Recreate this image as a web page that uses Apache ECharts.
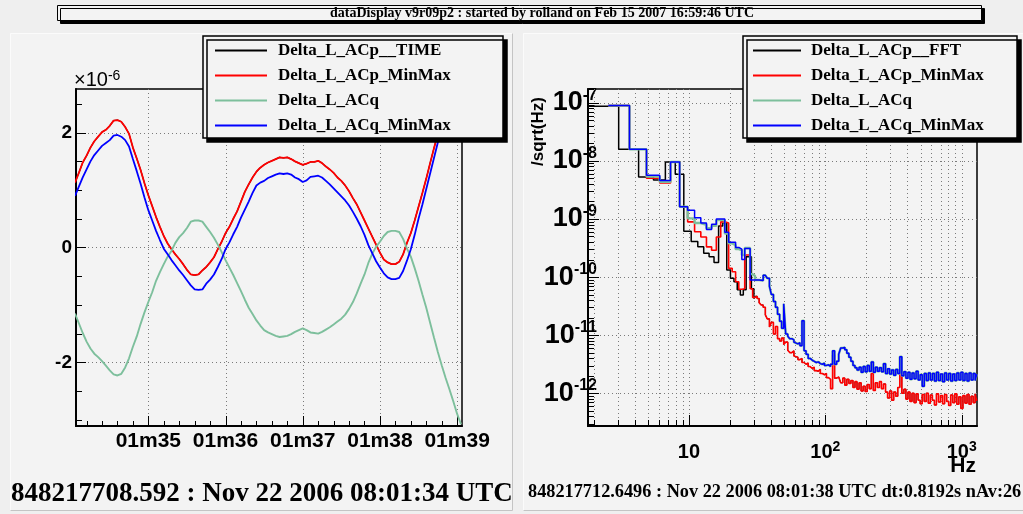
<!DOCTYPE html>
<html>
<head>
<meta charset="utf-8">
<script src="https://cdn.jsdelivr.net/npm/echarts@6/dist/echarts.min.js"></script>
<style>
  html, body { margin: 0; padding: 0; background: #efefef; }
  #chart { width: 1023px; height: 514px; }
</style>
</head>
<body>
<div id="chart"></div>
<script>
const SANS = '"Liberation Sans", Arial, Helvetica, sans-serif';
const SERIF = '"Liberation Serif", "Times New Roman", Times, serif';

// ---------- left pad: time series (units of 1e-6), one sample every 0.05 s ----------
const tStart = 34.05;   // seconds after 08:01:00 UTC
const tStep = 0.05;
const acpMinMax = [
  1.13, 1.30, 1.48, 1.60, 1.74, 1.85, 1.93, 2.01, 2.05, 2.12,
  2.21, 2.22, 2.19, 2.10, 1.98, 1.74, 1.55, 1.35, 1.12, 0.91,
  0.72, 0.53, 0.36, 0.20, 0.07, -0.03, -0.12, -0.20, -0.29, -0.39,
  -0.47, -0.48, -0.47, -0.40, -0.34, -0.26, -0.17, -0.03, 0.10, 0.25,
  0.36, 0.50, 0.63, 0.80, 0.97, 1.10, 1.22, 1.32, 1.39, 1.44,
  1.48, 1.51, 1.54, 1.57, 1.56, 1.57, 1.54, 1.50, 1.47, 1.44,
  1.46, 1.49, 1.49, 1.51, 1.47, 1.41, 1.36, 1.30, 1.22, 1.16,
  1.08, 0.98, 0.86, 0.75, 0.61, 0.47, 0.33, 0.19, 0.05, -0.09,
  -0.21, -0.26, -0.29, -0.29, -0.25, -0.12, 0.08, 0.25, 0.47, 0.71,
  0.95, 1.20, 1.47, 1.73, 1.98, 2.23, 2.48, 2.73, 2.98, 3.23, 3.48
];
// the raw ACp time trace lies under its min/max envelope at this scale
const acpTime = acpMinMax;
const acqMinMax = [
  0.90, 1.06, 1.22, 1.36, 1.50, 1.61, 1.69, 1.77, 1.82, 1.87,
  1.95, 1.96, 1.93, 1.87, 1.76, 1.54, 1.33, 1.11, 0.87, 0.65,
  0.47, 0.29, 0.13, -0.02, -0.12, -0.22, -0.31, -0.40, -0.48, -0.57,
  -0.66, -0.73, -0.74, -0.73, -0.63, -0.56, -0.47, -0.34, -0.20, -0.03,
  0.09, 0.23, 0.36, 0.52, 0.66, 0.80, 0.95, 1.08, 1.13, 1.16,
  1.21, 1.24, 1.27, 1.29, 1.28, 1.29, 1.27, 1.22, 1.19, 1.14,
  1.17, 1.23, 1.24, 1.25, 1.22, 1.16, 1.10, 1.03, 0.96, 0.89,
  0.82, 0.73, 0.62, 0.50, 0.37, 0.22, 0.04, -0.10, -0.24, -0.35,
  -0.45, -0.52, -0.55, -0.55, -0.53, -0.41, -0.23, -0.03, 0.22, 0.50,
  0.75, 1.02, 1.29, 1.56, 1.83, 2.10, 2.36, 2.62, 2.88, 3.10, 3.35
];
const acq = [
  -1.15, -1.32, -1.49, -1.64, -1.76, -1.85, -1.91, -1.98, -2.06, -2.14,
  -2.21, -2.23, -2.20, -2.09, -1.93, -1.73, -1.55, -1.33, -1.13, -0.95,
  -0.78, -0.58, -0.43, -0.29, -0.16, -0.06, 0.08, 0.18, 0.25, 0.34,
  0.45, 0.47, 0.47, 0.45, 0.36, 0.27, 0.17, 0.05, -0.08, -0.22,
  -0.35, -0.48, -0.62, -0.76, -0.91, -1.05, -1.16, -1.27, -1.36, -1.44,
  -1.48, -1.51, -1.54, -1.56, -1.55, -1.54, -1.51, -1.47, -1.44, -1.41,
  -1.44, -1.48, -1.49, -1.50, -1.47, -1.43, -1.39, -1.34, -1.29, -1.24,
  -1.17, -1.07, -0.95, -0.80, -0.63, -0.47, -0.27, -0.11, 0.01, 0.10,
  0.20, 0.27, 0.29, 0.29, 0.27, 0.15, -0.02, -0.16, -0.36, -0.58,
  -0.82, -1.05, -1.31, -1.57, -1.82, -2.05, -2.27, -2.47, -2.68, -2.90, -3.08
];
const timeTicks = [35, 36, 37, 38, 39];
const timeTickLabels = ['01m35', '01m36', '01m37', '01m38', '01m39'];
const ampTicks = [-2, 0, 2];

// ---------- right pad: amplitude spectral density, stored as log10 of the value ----------
// low-frequency bins (left edges in Hz); the FFT bins sit half a bin below the min/max bins
const fftEdgesHz = [1.83, 3.05, 4.27, 5.49, 6.71, 7.93, 9.16, 10.38, 11.60, 12.82, 14.04, 15.26,
  16.48, 17.70, 18.92, 20.14, 21.36, 22.58, 23.80, 25.02, 26.25, 27.47, 28.69, 29.91];
const acpFftLog = [-7.06, -7.80, -8.28, -8.33, -8.02, -8.23, -9.21, -9.39, -9.48, -9.59, -9.65, -9.75,
  -9.12, -9.07, -9.88, -10.02, -10.08, -10.22, -10.31, -10.22, -9.65, -9.65, -10.20, -10.37];
const minMaxEdgesHz = [2.56, 3.66, 4.88, 6.10, 7.32, 8.54, 9.77, 10.99, 12.21, 13.43, 14.65, 15.87,
  17.09, 18.31, 19.53, 20.75, 21.97, 23.19, 24.41, 25.63, 26.86, 28.08, 29.30];
const acpMinMaxLog = [-7.05, -7.80, -8.30, -8.38, -8.02, -8.79, -9.05, -9.22, -9.31, -9.48, -9.54, -9.31,
  -9.05, -9.07, -9.85, -9.91, -10.08, -10.21, -10.20, -9.62, -9.62, -10.20, -10.35];
const acqLog = [-7.05, -7.80, -8.27, -8.36, -8.02, -8.79, -8.99, -9.07, -9.10, -9.16, -9.12, -9.02,
  -9.02, -9.25, -9.42, -9.45, -9.52, -9.54, -9.62, -9.50, -9.50, -9.95, -9.98];
const acqMinMaxLog = [-7.05, -7.80, -8.25, -8.34, -8.02, -8.79, -8.85, -8.98, -9.07, -9.18, -9.09, -9.00,
  -9.00, -9.23, -9.40, -9.40, -9.49, -9.52, -9.70, -9.51, -9.51, -10.05, -10.05];

// above 30 Hz the FFT and min/max traces of each channel coincide
const highHz = [30.5,
  31.6, 32.7, 33.8, 35.0, 36.3, 37.5, 38.9, 40.2, 41.6, 43.1,
  44.6, 46.2, 47.8, 49.5, 51.2, 53.0, 54.8, 56.8, 58.8, 60.8,
  62.9, 65.1, 67.4, 69.8, 72.2, 74.8, 77.4, 80.1, 82.9, 85.8,
  88.8, 91.9, 95.1, 98.5, 101.9, 105.5, 109.2, 113.0, 116.9, 121.0,
  125.3, 129.6, 134.2, 138.9, 143.7, 148.8, 154.0, 159.4, 164.9, 170.7,
  176.7, 182.9, 189.3, 195.9, 202.7, 209.8, 217.2, 224.8, 232.6, 240.8,
  249.2, 257.9, 266.9, 276.3, 286.0, 296.0, 306.3, 317.0, 328.1, 339.6,
  351.5, 363.8, 376.6, 389.7, 403.4, 417.5, 432.1, 447.2, 462.9, 479.1,
  495.8, 513.2, 531.1, 549.7, 568.9, 588.9, 609.5, 630.8, 652.8, 675.7,
  699.3, 723.8, 749.1, 775.3, 802.5, 830.6, 859.6, 889.7, 920.9, 953.1,
  986.5, 1021, 1057, 1094, 1132, 1172, 1213, 1255, 1290];
const acpHighLog = [-10.33,
  -10.37, -10.44, -10.48, -10.52, -10.65, -10.72, -10.86, -10.78, -10.98, -10.85,
  -11.06, -11.10, -11.05, -11.16, -11.12, -11.26, -11.30, -11.27, -11.36, -11.38,
  -11.42, -11.40, -11.47, -11.50, -11.48, -11.54, -11.57, -11.55, -11.61, -11.62,
  -11.59, -11.66, -11.68, -11.66, -11.73, -11.76, -11.92, -11.34, -11.74, -11.72,
  -11.72, -11.82, -11.74, -11.86, -11.76, -11.83, -11.78, -11.90, -11.80, -11.93,
  -11.82, -11.96, -11.88, -11.97, -11.85, -11.92, -11.66, -11.95, -11.82, -11.90,
  -11.80, -11.92, -11.84, -11.98, -12.08, -11.96, -12.12, -11.98, -12.05, -11.90,
  -11.58, -12.00, -11.93, -12.10, -11.98, -12.14, -12.00, -12.16, -12.01, -12.12,
  -12.18, -12.02, -12.14, -12.00, -12.17, -12.03, -12.12, -12.20, -12.01, -12.15,
  -12.04, -12.18, -12.02, -12.14, -12.21, -12.03, -12.16, -12.01, -12.19, -12.06,
  -12.26, -12.04, -12.17, -12.02, -12.19, -12.05, -12.16, -12.01, -12.13];
const acqHighLog = [-10.05,
  -10.05, -10.03, -10.06, -9.97, -9.98, -10.02, -10.16, -10.30, -10.42, -10.52,
  -10.64, -10.76, -10.88, -10.46, -10.98, -11.02, -11.06, -11.08, -11.12, -11.15,
  -11.13, -11.18, -10.75, -11.27, -11.33, -11.40, -11.43, -11.45, -11.47, -11.46,
  -11.49, -11.50, -11.48, -11.52, -11.51, -11.54, -11.50, -11.27, -11.50, -11.45,
  -11.33, -11.22, -11.21, -11.25, -11.31, -11.38, -11.45, -11.52, -11.56, -11.60,
  -11.55, -11.64, -11.54, -11.63, -11.52, -11.62, -11.46, -11.64, -11.55, -11.62,
  -11.56, -11.63, -11.49, -11.66, -11.58, -11.67, -11.60, -11.69, -11.59, -11.66,
  -11.37, -11.70, -11.63, -11.74, -11.64, -11.76, -11.65, -11.75, -11.62, -11.77,
  -11.68, -11.88, -11.66, -11.78, -11.65, -11.77, -11.66, -11.79, -11.64, -11.78,
  -11.67, -11.80, -11.65, -11.77, -11.66, -11.79, -11.67, -11.78, -11.65, -11.77,
  -11.64, -11.78, -11.66, -11.79, -11.65, -11.77, -11.66, -11.78, -11.67];
const freqTicks = [10, 100, 1000];
const asdTicks = [1e-12, 1e-11, 1e-10, 1e-9, 1e-8, 1e-7];

// ---------- colours ----------
const C_BLACK = '#000000', C_RED = '#ff0000', C_GREEN = '#7dbf9c', C_BLUE = '#0000ff';
const PAD = '#f3f3f3';

// ---------- helpers ----------
const tAxis = acq.map((_, i) => +(tStart + i * tStep).toFixed(2));
const pairs = (xs, ys) => xs.map((x, i) => [x, ys[i]]);
const logPairs = (xs, ys) => xs.map((x, i) => [x, Math.pow(10, ys[i])]);
const spectrum = (edges, lowLog, highLog) => logPairs(edges, lowLog).concat(logPairs(highHz, highLog));
// FFT trace split in two: the stepped low-frequency bins, and the band above 30 Hz
const fftLow = logPairs(fftEdgesHz, acpFftLog).concat([[highHz[0], Math.pow(10, acpHighLog[0])]]);
const fftHigh = logPairs(highHz, acpHighLog);

// axis ranges
const T_MIN = 34.063, T_MAX = 39.063, A_MIN = -3.11, A_MAX = 2.761;
const F_MIN = Math.pow(10, 0.2593), F_MAX = Math.pow(10, 3.1122);
const S_MIN = Math.pow(10, -12.563), S_MAX = Math.pow(10, -6.764);

// tick lists (value, length in px)
const leftTicksX = [];
for (let k = 171; k <= 195; k++) {
  const v = k / 5;
  if (v < T_MIN || v > T_MAX) continue;
  leftTicksX.push([v, k % 5 === 0 ? 10 : 5]);
}
const leftTicksY = [];
for (let k = -6; k <= 5; k++) {
  const v = k / 2;
  leftTicksY.push([v, ampTicks.includes(v) ? 10 : 6]);
}
const rightTicksX = [], rightGridX = [];
for (let e = 0; e <= 3; e++) for (let m = 1; m <= 9; m++) {
  const v = m * Math.pow(10, e);
  if (v < F_MIN || v > F_MAX) continue;
  rightTicksX.push([v, m === 1 ? 11 : 6]);
  rightGridX.push(v);
}
const rightTicksY = [];
for (let e = -13; e <= -7; e++) for (let m = 1; m <= 9; m++) {
  const v = m * Math.pow(10, e);
  if (v < S_MIN || v > S_MAX) continue;
  rightTicksY.push([v, m === 1 ? 11 : 6]);
}

// frame decorations (dotted grid + inside ticks) drawn through the axis scales
function frameSeries(xAxisIndex, yAxisIndex, cfg) {
  return {
    type: 'custom', xAxisIndex, yAxisIndex, silent: true, z: 1, animation: false,
    data: [[cfg.xRef, cfg.yRef]],
    renderItem(params, api) {
      const cs = params.coordSys;
      const left = cs.x, top = cs.y, right = cs.x + cs.width, bottom = cs.y + cs.height;
      const px = v => Math.round(api.coord([v, cfg.yRef])[0]) + 0.5;
      const py = v => Math.round(api.coord([cfg.xRef, v])[1]) + 0.5;
      const kids = [];
      const dot = { stroke: '#7a7a7a', lineWidth: 1, lineDash: [1, 3], fill: null };
      const tick = { stroke: '#000', lineWidth: 1, fill: null };
      cfg.gridX.forEach(v => { const x = px(v); kids.push({ type: 'line', shape: { x1: x, y1: top, x2: x, y2: bottom }, style: dot }); });
      cfg.gridY.forEach(v => { const y = py(v); kids.push({ type: 'line', shape: { x1: left, y1: y, x2: right, y2: y }, style: dot }); });
      cfg.ticksX.forEach(([v, len]) => { const x = px(v); kids.push({ type: 'line', shape: { x1: x, y1: bottom, x2: x, y2: bottom - len }, style: tick }); });
      cfg.ticksY.forEach(([v, len]) => { const y = py(v); kids.push({ type: 'line', shape: { x1: left, y1: y, x2: left + len, y2: y }, style: tick }); });
      return { type: 'group', children: kids };
    }
  };
}

const lineBase = { type: 'line', showSymbol: false, symbol: 'none', animation: false, silent: true };
const legendBase = {
  orient: 'vertical', icon: 'rect', itemHeight: 2, itemGap: 0, z: 20,
  backgroundColor: PAD, borderColor: '#000', borderWidth: 1.5,
  shadowColor: '#000', shadowBlur: 0, shadowOffsetX: 4, shadowOffsetY: 4,
  selectedMode: false
};
const legendText = { fontFamily: SERIF, fontWeight: 'bold', fontSize: 17, color: '#000', lineHeight: 25 };
const powLabel = v => {
  const e = Math.round(Math.log10(v));
  return e === 1 ? '{b|10}' : '{b|10}{s|' + e + '}';
};
const richPow = (big, small) => ({
  b: { fontFamily: SANS, fontWeight: 'bold', fontSize: big, color: '#000', lineHeight: big + 4 },
  s: { fontFamily: SANS, fontWeight: 'bold', fontSize: small, color: '#000', verticalAlign: 'top', lineHeight: small + 2 }
});

const option = {
  backgroundColor: '#efefef',
  animation: false,
  graphic: [
    // pads
    { type: 'rect', z: -10, shape: { x: 10, y: 33, width: 503, height: 478 }, style: { fill: PAD, stroke: null } },
    { type: 'polyline', z: -9, shape: { points: [[10.5, 510.5], [10.5, 33.5], [512.5, 33.5]] }, style: { stroke: '#fbfbfb', fill: null, lineWidth: 1 } },
    { type: 'polyline', z: -9, shape: { points: [[512.5, 33.5], [512.5, 510.5], [10.5, 510.5]] }, style: { stroke: '#c4c4c4', fill: null, lineWidth: 1 } },
    { type: 'rect', z: -10, shape: { x: 523, y: 33, width: 500, height: 478 }, style: { fill: PAD, stroke: null } },
    { type: 'polyline', z: -9, shape: { points: [[523.5, 510.5], [523.5, 33.5], [1023, 33.5]] }, style: { stroke: '#fbfbfb', fill: null, lineWidth: 1 } },
    { type: 'polyline', z: -9, shape: { points: [[523.5, 510.5], [1023, 510.5]] }, style: { stroke: '#c4c4c4', fill: null, lineWidth: 1 } },
    // title box
    { type: 'rect', z: 50, shape: { x: 57.5, y: 5.5, width: 924, height: 15 },
      style: { fill: PAD, stroke: '#000', lineWidth: 1, shadowColor: '#000', shadowBlur: 0, shadowOffsetX: 3, shadowOffsetY: 3 } },
    { type: 'text', z: 51, x: 542, y: 13.5,
      style: { text: 'dataDisplay v9r09p2 : started by rolland on Feb 15 2007 16:59:46 UTC', font: 'bold 14px ' + SERIF,
        fill: '#000', align: 'center', verticalAlign: 'middle', textAlign: 'center', textVerticalAlign: 'middle' } },
    // exponent of the left amplitude axis
    { type: 'text', z: 50, x: 74, y: 91,
      style: { text: '{a|×10}{s|-6}', fill: '#000', align: 'left', verticalAlign: 'bottom', textAlign: 'left', textVerticalAlign: 'bottom',
        rich: { a: { fontFamily: SANS, fontSize: 20, color: '#000', lineHeight: 22 },
                s: { fontFamily: SANS, fontSize: 14, color: '#000', verticalAlign: 'top', lineHeight: 16 } } } },
    // right axis titles
    { type: 'text', z: 50, x: 538, y: 131.5, rotation: Math.PI / 2,
      style: { text: '/sqrt(Hz)', font: 'bold 17px ' + SANS, fill: '#000', align: 'center', verticalAlign: 'middle', textAlign: 'center', textVerticalAlign: 'middle' } },
    { type: 'text', z: 50, x: 976, y: 466,
      style: { text: 'Hz', font: 'bold 21px ' + SANS, fill: '#000', align: 'right', verticalAlign: 'middle', textAlign: 'right', textVerticalAlign: 'middle' } },
    // time stamps
    { type: 'text', z: 50, x: 11, y: 494.5,
      style: { text: '848217708.592 : Nov 22 2006 08:01:34 UTC', font: 'bold 27px ' + SERIF, fill: '#000', align: 'left', verticalAlign: 'middle', textAlign: 'left', textVerticalAlign: 'middle' } },
    { type: 'text', z: 50, x: 528, y: 492.5,
      style: { text: '848217712.6496 : Nov 22 2006 08:01:38 UTC dt:0.8192s nAv:26', font: 'bold 18.3px ' + SERIF, fill: '#000', align: 'left', verticalAlign: 'middle', textAlign: 'left', textVerticalAlign: 'middle' } }
  ],
  legend: [
    Object.assign({}, legendBase, {
      left: 203, top: 36, padding: [2, 10, 0, 12], itemWidth: 52,
      textStyle: Object.assign({}, legendText, { width: 215, padding: [0, 0, 0, 6] }),
      data: ['Delta_L_ACp__TIME', 'Delta_L_ACp_MinMax', 'Delta_L_ACq', 'Delta_L_ACq_MinMax']
    }),
    Object.assign({}, legendBase, {
      left: 743, top: 36, padding: [2, 10, 0, 10], itemWidth: 48,
      textStyle: Object.assign({}, legendText, { width: 196, padding: [0, 0, 0, 5] }),
      data: ['Delta_L_ACp__FFT', 'Delta_L_ACp_MinMax', 'Delta_L_ACq', 'Delta_L_ACq_MinMax']
    })
  ],
  grid: [
    { left: 76, top: 89, width: 386, height: 337, show: true, borderColor: '#000', borderWidth: 1.5, backgroundColor: 'transparent' },
    { left: 588, top: 89, width: 389, height: 337, show: true, borderColor: '#000', borderWidth: 1.5, backgroundColor: 'transparent' }
  ],
  xAxis: [
    { gridIndex: 0, type: 'value', min: T_MIN, max: T_MAX,
      axisLine: { show: true, onZero: false, lineStyle: { color: '#000', width: 2 } },
      axisTick: { show: false }, splitLine: { show: false },
      axisLabel: { customValues: timeTicks, margin: 5, color: '#000', fontFamily: SANS, fontWeight: 'bold', fontSize: 21,
        formatter: v => timeTickLabels[timeTicks.indexOf(Math.round(v))] } },
    { gridIndex: 1, type: 'log', logBase: 10, min: F_MIN, max: F_MAX,
      axisLine: { show: true, onZero: false, lineStyle: { color: '#000', width: 2 } },
      axisTick: { show: false }, splitLine: { show: false },
      axisLabel: { customValues: freqTicks, margin: 14, formatter: powLabel, rich: richPow(20, 14) } }
  ],
  yAxis: [
    { gridIndex: 0, type: 'value', min: A_MIN, max: A_MAX,
      axisLine: { show: true, onZero: false, lineStyle: { color: '#000', width: 2 } },
      axisTick: { show: false }, splitLine: { show: false },
      axisLabel: { customValues: ampTicks, margin: 4, color: '#000', fontFamily: SANS, fontWeight: 'bold', fontSize: 19,
        formatter: v => String(Math.round(v)) } },
    { gridIndex: 1, type: 'log', logBase: 10, min: S_MIN, max: S_MAX,
      axisLine: { show: true, onZero: false, lineStyle: { color: '#000', width: 2 } },
      axisTick: { show: false }, splitLine: { show: false },
      axisLabel: { customValues: asdTicks, margin: -9, formatter: powLabel, rich: richPow(27, 16) } }
  ],
  series: [
    frameSeries(0, 0, { xRef: 36, yRef: 0, gridX: timeTicks, gridY: ampTicks, ticksX: leftTicksX, ticksY: leftTicksY }),
    Object.assign({}, lineBase, { name: 'Delta_L_ACp__TIME', xAxisIndex: 0, yAxisIndex: 0, z: 3,
      data: pairs(tAxis, acpTime), itemStyle: { color: C_BLACK }, lineStyle: { color: C_BLACK, width: 1.2 } }),
    Object.assign({}, lineBase, { name: 'Delta_L_ACp_MinMax', xAxisIndex: 0, yAxisIndex: 0, z: 4,
      data: pairs(tAxis, acpMinMax), itemStyle: { color: C_RED }, lineStyle: { color: C_RED, width: 1.8 } }),
    Object.assign({}, lineBase, { name: 'Delta_L_ACq', xAxisIndex: 0, yAxisIndex: 0, z: 5,
      data: pairs(tAxis, acq), itemStyle: { color: C_GREEN }, lineStyle: { color: C_GREEN, width: 1.9 } }),
    Object.assign({}, lineBase, { name: 'Delta_L_ACq_MinMax', xAxisIndex: 0, yAxisIndex: 0, z: 6,
      data: pairs(tAxis, acqMinMax), itemStyle: { color: C_BLUE }, lineStyle: { color: C_BLUE, width: 1.8 } }),

    frameSeries(1, 1, { xRef: 10, yRef: 1e-10, gridX: rightGridX, gridY: asdTicks, ticksX: rightTicksX, ticksY: rightTicksY }),
    Object.assign({}, lineBase, { name: 'Delta_L_ACp__FFT', xAxisIndex: 1, yAxisIndex: 1, z: 3, step: 'end',
      data: fftLow, itemStyle: { color: C_BLACK }, lineStyle: { color: C_BLACK, width: 1.5 } }),
    Object.assign({}, lineBase, { name: 'Delta_L_ACp__FFT', xAxisIndex: 1, yAxisIndex: 1, z: 3, step: 'end',
      data: fftHigh, itemStyle: { color: C_BLACK }, lineStyle: { color: C_BLACK, width: 1.0 } }),
    Object.assign({}, lineBase, { name: 'Delta_L_ACp_MinMax', xAxisIndex: 1, yAxisIndex: 1, z: 4, step: 'end',
      data: spectrum(minMaxEdgesHz, acpMinMaxLog, acpHighLog), itemStyle: { color: C_RED }, lineStyle: { color: C_RED, width: 1.6 } }),
    Object.assign({}, lineBase, { name: 'Delta_L_ACq', xAxisIndex: 1, yAxisIndex: 1, z: 5, step: 'end',
      data: spectrum(minMaxEdgesHz, acqLog, acqHighLog), itemStyle: { color: C_GREEN }, lineStyle: { color: C_GREEN, width: 2.4 } }),
    Object.assign({}, lineBase, { name: 'Delta_L_ACq_MinMax', xAxisIndex: 1, yAxisIndex: 1, z: 6, step: 'end',
      data: spectrum(minMaxEdgesHz, acqMinMaxLog, acqHighLog), itemStyle: { color: C_BLUE }, lineStyle: { color: C_BLUE, width: 1.5 } })
  ]
};

const chart = echarts.init(document.getElementById('chart'), null, { renderer: 'canvas', width: 1023, height: 514 });
chart.setOption(option);
</script>
</body>
</html>
